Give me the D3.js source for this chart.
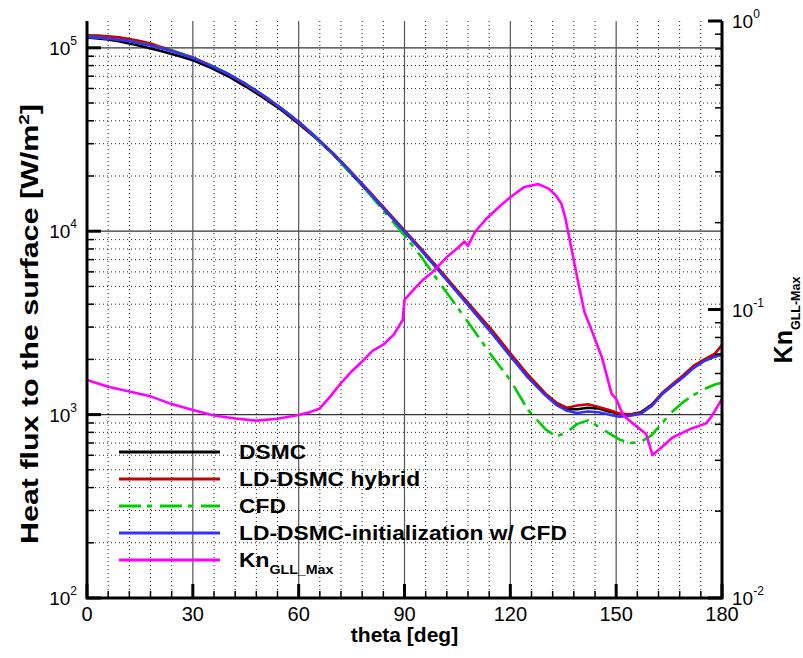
<!DOCTYPE html>
<html>
<head>
<meta charset="utf-8">
<title>Heat flux</title>
<script src="https://d3js.org/d3.v7.min.js"></script>
<style>
  body { margin: 0; background: white; }
  text { font-family: "Liberation Sans", Arial, Helvetica, sans-serif; }
</style>
</head>
<body>
<div id="plot"></div>
<script>
// theta grid [deg] shared by the four heat flux curves
var theta = [0,3,6,9,12,15,18,21,24,27,30,35,40,45,50,55,60,65,70,75,80,85,90,95,100,105,110,115,120,125,130,133,136,139,142,145,148,151,154,157,160,163,166,169,172,175,178,180]

// heat flux [W/m2]
var dsmc = [114000,112500,111000,108500,105500,102500,99000,96000,92500,89000,85500,78000,70000,61500,53500,46000,38500,32000,26000,20500,16200,12700,9900,7800,6050,4680,3600,2780,2100,1620,1290,1160,1070,1070,1090,1080,1040,1010,1000,1030,1130,1300,1450,1620,1820,1980,2080,2150]
var ldHybrid = [117000,116500,115500,114000,111500,109000,105500,101000,97000,92500,88500,80500,72000,63000,54500,46800,39000,32300,26300,20900,16500,12900,10100,7900,6150,4750,3680,2850,2160,1650,1300,1160,1090,1120,1140,1100,1060,1010,1000,1020,1120,1310,1470,1640,1850,2000,2150,2400]
var cfd = [115000,114000,112500,110500,108500,106000,103500,100000,96500,92500,88500,80500,72500,63500,55000,47000,39500,32300,26000,20500,16000,12300,9500,7150,5200,3850,2820,2060,1540,1060,830,760,800,890,930,860,790,730,700,710,770,900,1040,1170,1280,1380,1460,1490]
var ldInit = [115000,114000,112500,110500,108500,106000,103000,99500,96000,92000,88000,80000,72000,63500,55000,47000,39500,32500,26300,20800,16300,12700,9950,7750,6000,4620,3560,2740,2080,1590,1270,1130,1050,1020,1040,1030,1000,975,985,1010,1110,1290,1440,1600,1800,1960,2070,2120]

// Kn GLL max (right axis)
var thetaKn = [0,6,12,18,24,30,36,42,48,54,60,63,66,69,72,75,78,81,84,87,89.5,90,92,95,98,102,105,107,108,110,113,117,120,124,128,131,133,134.5,135.5,137.4,139.3,141,143,146,148.7,150,152,155,158.5,160.3,162,166,171,175.5,177,180]
var knMax = [0.057,0.054,0.052,0.050,0.047,0.0448,0.0429,0.0419,0.0412,0.0418,0.0431,0.044,0.0454,0.050,0.0556,0.061,0.066,0.072,0.0755,0.082,0.092,0.108,0.115,0.126,0.135,0.152,0.163,0.172,0.166,0.186,0.205,0.228,0.245,0.266,0.272,0.262,0.248,0.232,0.21,0.161,0.123,0.098,0.085,0.068,0.051,0.049,0.043,0.040,0.037,0.0313,0.0326,0.0360,0.0385,0.0403,0.0425,0.049]

var xTicks = [0,30,60,90,120,150,180]
var leftDecades = [2,3,4,5]
var rightDecades = [-2,-1,0]

var legendNames = ['DSMC','LD-DSMC hybrid','CFD','LD-DSMC-initialization w/ CFD','Kn']
var seriesData = [dsmc, ldHybrid, cfd, ldInit]
var colors = ['#000000','#cc0000','#00cc00','#3030ff','#ff00ff']

var W = 803, H = 658
var box = {left:87, right:722, top:21, bottom:598}

var svg = d3.select('#plot').append('svg')
    .attr('width', W)
    .attr('height', H)

var x = d3.scaleLinear().domain([0,180]).range([box.left, box.right])
var yL = d3.scaleLog().domain([1e2, 1.4e5]).range([box.bottom, box.top])
var yR = d3.scaleLog().domain([1e-2, 1]).range([box.bottom, box.top])

// minor values for log axes
var leftMinor = []
leftDecades.forEach(function(e){
  for (var m=2; m<=9; m++) {
    var v = m*Math.pow(10,e)
    if (v <= 1.4e5) leftMinor.push(v)
  }
})
var rightMinor = []
rightDecades.slice(0,2).forEach(function(e){
  for (var m=2; m<=9; m++) rightMinor.push(m*Math.pow(10,e))
})
var xMinor = d3.range(0,181,6).filter(function(d){ return d%30 !== 0 })

//GRID
var grid = svg.append('g')
grid.selectAll('.hminor').data(leftMinor).enter().append('line')
    .attr('x1', box.left).attr('x2', box.right)
    .attr('y1', function(d){return yL(d)}).attr('y2', function(d){return yL(d)})
    .attr('stroke','#222').attr('stroke-width',1).attr('stroke-dasharray','1,3')
grid.selectAll('.vminor').data(xMinor).enter().append('line')
    .attr('y1', box.top).attr('y2', box.bottom)
    .attr('x1', function(d){return x(d)}).attr('x2', function(d){return x(d)})
    .attr('stroke','#222').attr('stroke-width',1).attr('stroke-dasharray','1,3')
grid.selectAll('.hmajor').data([1e3,1e4,1e5]).enter().append('line')
    .attr('x1', box.left).attr('x2', box.right)
    .attr('y1', function(d){return yL(d)}).attr('y2', function(d){return yL(d)})
    .attr('stroke','#333').attr('stroke-width',1.2)
grid.selectAll('.vmajor').data(xTicks.slice(1,6)).enter().append('line')
    .attr('y1', box.top).attr('y2', box.bottom)
    .attr('x1', function(d){return x(d)}).attr('x2', function(d){return x(d)})
    .attr('stroke','#555').attr('stroke-width',1.2)

//CURVES
var lineL = d3.line()
    .x(function(d,i){return x(theta[i])})
    .y(function(d){return yL(d)})
seriesData.forEach(function(s,k){
  svg.append('path')
      .datum(s)
      .attr('d', lineL)
      .attr('fill','none')
      .attr('stroke', colors[k])
      .attr('stroke-width', 2.6)
      .attr('stroke-linejoin','round')
      .attr('stroke-dasharray', k===2 ? '22,6,5,8' : null)
})
var lineKn = d3.line()
    .x(function(d,i){return x(thetaKn[i])})
    .y(function(d){return yR(d)})
svg.append('path')
    .datum(knMax)
    .attr('d', lineKn)
    .attr('fill','none')
    .attr('stroke', colors[4])
    .attr('stroke-width', 2.6)
    .attr('stroke-linejoin','round')

//AXES
var ax = svg.append('g')
// bottom
ax.selectAll('.bmin').data(xMinor).enter().append('line')
    .attr('x1', function(d){return x(d)}).attr('x2', function(d){return x(d)})
    .attr('y1', box.bottom).attr('y2', box.bottom-7)
    .attr('stroke','#000').attr('stroke-width',1.5)
ax.selectAll('.bmaj').data(xTicks).enter().append('line')
    .attr('x1', function(d){return x(d)}).attr('x2', function(d){return x(d)})
    .attr('y1', box.bottom).attr('y2', box.bottom-14)
    .attr('stroke','#000').attr('stroke-width',3)
ax.selectAll('.blab').data(xTicks).enter().append('text')
    .attr('x', function(d){return x(d)})
    .attr('y', 621)
    .attr('text-anchor','middle')
    .attr('font-size', 20)
    .text(function(d){return d})
// left
ax.selectAll('.lmin').data(leftMinor).enter().append('line')
    .attr('x1', box.left).attr('x2', box.left+7)
    .attr('y1', function(d){return yL(d)}).attr('y2', function(d){return yL(d)})
    .attr('stroke','#000').attr('stroke-width',1.5)
ax.selectAll('.lmaj').data(leftDecades).enter().append('line')
    .attr('x1', box.left).attr('x2', box.left+14)
    .attr('y1', function(d){return yL(Math.pow(10,d))}).attr('y2', function(d){return yL(Math.pow(10,d))})
    .attr('stroke','#000').attr('stroke-width',3)
var ll = ax.selectAll('.llab').data(leftDecades).enter().append('text')
    .attr('x', 77)
    .attr('y', function(d){return yL(Math.pow(10,d)) + 7})
    .attr('text-anchor','end')
    .attr('font-size', 19)
ll.append('tspan').text('10')
ll.append('tspan').attr('dy',-10).attr('font-size',12).text(function(d){return d})
// right
ax.selectAll('.rmin').data(rightMinor).enter().append('line')
    .attr('x1', box.right).attr('x2', box.right-7)
    .attr('y1', function(d){return yR(d)}).attr('y2', function(d){return yR(d)})
    .attr('stroke','#000').attr('stroke-width',1.5)
ax.selectAll('.rmaj').data(rightDecades).enter().append('line')
    .attr('x1', box.right).attr('x2', box.right-14)
    .attr('y1', function(d){return yR(Math.pow(10,d))}).attr('y2', function(d){return yR(Math.pow(10,d))})
    .attr('stroke','#000').attr('stroke-width',3)
var rl = ax.selectAll('.rlab').data(rightDecades).enter().append('text')
    .attr('x', 732)
    .attr('y', function(d){return yR(Math.pow(10,d)) + 7})
    .attr('text-anchor','start')
    .attr('font-size', 19)
rl.append('tspan').text('10')
rl.append('tspan').attr('dy',-10).attr('font-size',12).text(function(d){return d})
// axis lines
ax.append('path')
    .attr('d', 'M'+box.left+','+box.top+'V'+box.bottom+'H'+box.right+'V'+box.top)
    .attr('fill','none').attr('stroke','#000').attr('stroke-width',3)

//TITLES
svg.append('text')
    .attr('x', (box.left+box.right)/2)
    .attr('y', 642)
    .attr('text-anchor','middle')
    .attr('font-size', 21)
    .attr('font-weight','bold')
    .text('theta [deg]')

var lt = svg.append('text')
    .attr('transform','translate(38,324) rotate(-90)')
    .attr('text-anchor','middle')
    .attr('font-size', 24)
    .attr('font-weight','bold')
    .attr('textLength', 440)
    .attr('lengthAdjust','spacingAndGlyphs')
lt.append('tspan').text('Heat flux to the surface [W/m')
lt.append('tspan').attr('dy',-9).attr('font-size',15).text('2')
lt.append('tspan').attr('dy',9).text(']')

var rt = svg.append('text')
    .attr('transform','translate(792,320) rotate(-90)')
    .attr('text-anchor','middle')
    .attr('font-size', 25)
    .attr('font-weight','bold')
rt.append('tspan').text('Kn')
rt.append('tspan').attr('dy',8).attr('font-size',12.5).text('GLL-Max')

//LEGEND
var legend = svg.selectAll('.legend')
    .data(legendNames)
    .enter().append('g')
    .attr('class','legend')
    .attr('transform', function(d,i){return 'translate(0,'+(452 + i*27)+')'})
legend.append('line')
    .attr('x1',119).attr('x2',220)
    .attr('stroke', function(d,i){return colors[i]})
    .attr('stroke-width',3)
    .attr('stroke-dasharray', function(d,i){return i===2 ? '22,6,5,8' : null})
var lt2 = legend.append('text')
    .attr('transform','translate(239,6.5) scale(1.14,1)')
    .attr('font-size',20)
    .attr('font-weight','bold')
lt2.append('tspan').text(function(d){return d})
lt2.filter(function(d){return d==='Kn'})
    .append('tspan').attr('dy',7).attr('font-size',12.5).text('GLL_Max')
</script>
</body>
</html>
